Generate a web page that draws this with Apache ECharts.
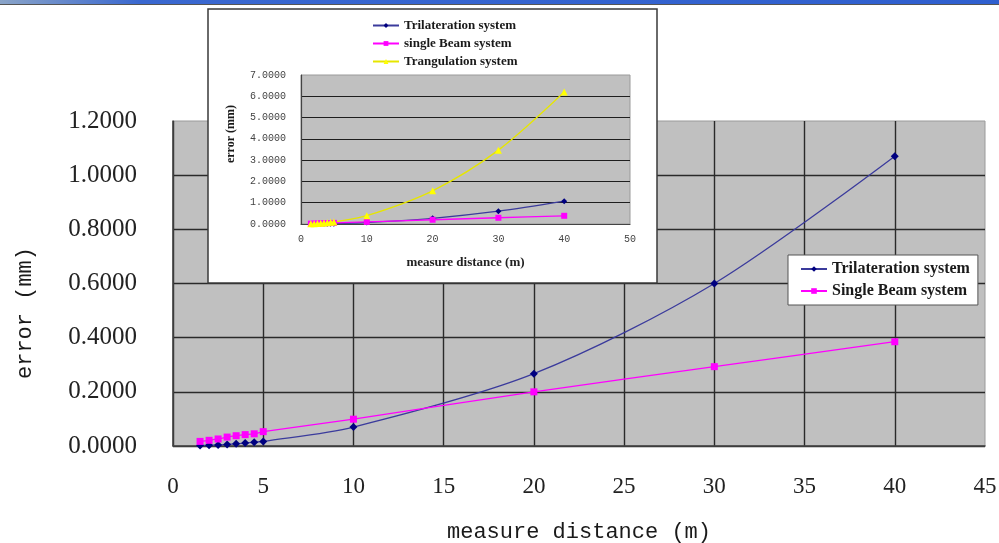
<!DOCTYPE html>
<html>
<head>
<meta charset="utf-8">
<script src="https://cdn.jsdelivr.net/npm/echarts@6/dist/echarts.min.js"></script>
<style>
  html, body { margin: 0; padding: 0; background: #ffffff; }
  #chart { width: 999px; height: 543px; }
</style>
</head>
<body>
<div id="chart"></div>
<script>
// Measuring distance (m)
const distances = [1.5, 2, 2.5, 3, 3.5, 4, 4.5, 5, 10, 20, 30, 40];

// Error (mm) of each system at those distances
const trilaterationError = [0.002, 0.003, 0.004, 0.006, 0.008, 0.011, 0.014, 0.017, 0.07, 0.267, 0.6, 1.07];
const singleBeamError    = [0.017, 0.021, 0.026, 0.033, 0.038, 0.042, 0.045, 0.053, 0.099, 0.2, 0.293, 0.385];
const triangulationError = [0.009, 0.016, 0.024, 0.035, 0.048, 0.062, 0.079, 0.097, 0.39, 1.56, 3.47, 6.2];

// Series names as printed in each legend
const mainNames  = ['Trilateration system', 'Single Beam system'];
const insetNames = ['Trilateration system', 'single Beam system', 'Trangulation system'];

// Axis titles
const xTitle = 'measure distance (m)';
const yTitle = 'error (mm)';

const pairs = (ys) => distances.map((d, i) => [d, ys[i]]);

const SERIF = '"Liberation Serif", "Times New Roman", serif';
const MONO = '"Liberation Mono", "Courier New", monospace';

const navyLine = '#3b3b9c';
const navyMark = '#000080';
const magenta = '#ff00ff';
const yellow = '#ffff00';

const chart = echarts.init(document.getElementById('chart'), null, { renderer: 'canvas' });

function lineSeries(name, ys, xi, yi, color, markColor, symbol, size, zl) {
  return {
    type: 'line',
    name: name,
    xAxisIndex: xi,
    yAxisIndex: yi,
    data: pairs(ys),
    smooth: 0.3,
    symbol: symbol,
    symbolSize: size,
    showSymbol: true,
    zlevel: zl,
    z: 4,
    lineStyle: { color: color, width: 1.3 },
    itemStyle: { color: markColor },
    emphasis: { disabled: true },
    animation: false
  };
}

const option = {
  animation: false,
  backgroundColor: '#ffffff',
  grid: [
    {
      left: 173, right: 14, top: 121, bottom: 97,
      outerBoundsMode: 'none', containLabel: false,
      show: true, backgroundColor: '#c0c0c0', borderColor: '#9a9a9a', borderWidth: 1,
      zlevel: 0, z: 0
    },
    {
      left: 301, right: 369, top: 75, bottom: 319,
      outerBoundsMode: 'none', containLabel: false,
      show: true, backgroundColor: '#c0c0c0', borderColor: '#9a9a9a', borderWidth: 1,
      zlevel: 2, z: 0
    }
  ],
  xAxis: [
    {
      gridIndex: 0, type: 'value', min: 0, max: 45, interval: 5,
      name: xTitle, nameLocation: 'middle', nameGap: 75,
      nameTextStyle: { fontFamily: MONO, fontSize: 22, color: '#1a1a1a' },
      axisLine: { show: true, lineStyle: { color: '#444', width: 1.5 } },
      axisTick: { show: false },
      axisLabel: { margin: 29, fontFamily: SERIF, fontSize: 23, color: '#222' },
      splitLine: { show: true, showMaxLine: false, lineStyle: { color: '#2a2a2a', width: 1.4 } },
      zlevel: 0
    },
    {
      gridIndex: 1, type: 'value', min: 0, max: 50, interval: 10,
      name: xTitle, nameLocation: 'middle', nameGap: 32,
      nameTextStyle: { fontFamily: SERIF, fontWeight: 'bold', fontSize: 13, color: '#222' },
      axisLine: { show: true, lineStyle: { color: '#444', width: 1.2 } },
      axisTick: { show: false },
      axisLabel: { margin: 10, fontFamily: MONO, fontSize: 10, color: '#444' },
      splitLine: { show: false },
      zlevel: 2
    }
  ],
  yAxis: [
    {
      gridIndex: 0, type: 'value', min: 0, max: 1.2, interval: 0.2,
      axisLine: { show: true, lineStyle: { color: '#444', width: 1.5 } },
      axisTick: { show: false },
      axisLabel: {
        margin: 36, fontFamily: SERIF, fontSize: 25, color: '#222',
        formatter: (v) => v.toFixed(4)
      },
      splitLine: { show: true, showMaxLine: false, lineStyle: { color: '#2a2a2a', width: 1.4 } },
      zlevel: 0
    },
    {
      gridIndex: 1, type: 'value', min: 0, max: 7, interval: 1,
      axisLine: { show: true, lineStyle: { color: '#444', width: 1.2 } },
      axisTick: { show: false },
      axisLabel: {
        margin: 15, fontFamily: MONO, fontSize: 10, color: '#444',
        formatter: (v) => v.toFixed(4)
      },
      splitLine: { show: true, showMaxLine: false, lineStyle: { color: '#1e1e1e', width: 1.2 } },
      zlevel: 2
    }
  ],
  legend: [
    {
      data: mainNames,
      orient: 'vertical',
      left: 788, top: 255,
      padding: [6, 8, 6, 12],
      itemGap: 6,
      itemWidth: 26, itemHeight: 7,
      backgroundColor: '#ffffff',
      borderColor: '#555', borderWidth: 1,
      borderRadius: 0,
      selectedMode: false,
      textStyle: { fontFamily: SERIF, fontWeight: 'bold', fontSize: 16, color: '#1a1a1a' },
      zlevel: 0, z: 6
    },
    {
      data: insetNames,
      orient: 'vertical',
      left: 372, top: 19,
      padding: 0,
      itemGap: 5,
      itemWidth: 26, itemHeight: 6,
      selectedMode: false,
      textStyle: { fontFamily: SERIF, fontWeight: 'bold', fontSize: 13, color: '#1a1a1a' },
      zlevel: 2, z: 6
    }
  ],
  graphic: [
    // window title bar strip along the top edge
    { type: 'rect', zlevel: 0, z: 10, shape: { x: 0, y: 0, width: 999, height: 4 },
      style: { fill: new echarts.graphic.LinearGradient(0, 0, 1, 0, [
        { offset: 0, color: '#8aa4c8' }, { offset: 0.14, color: '#3a68d0' }, { offset: 1, color: '#2f5fcf' }
      ]) } },
    { type: 'rect', zlevel: 0, z: 10, shape: { x: 0, y: 4, width: 999, height: 1 },
      style: { fill: '#555555' } },
    // frame of the inset chart
    { type: 'rect', zlevel: 1, z: 0, shape: { x: 208, y: 9, width: 449, height: 274 },
      style: { fill: '#ffffff', stroke: '#3a3a3a', lineWidth: 1.5 } },
    // rotated y-axis titles
    { type: 'text', zlevel: 0, z: 10, x: 25, y: 313, rotation: Math.PI / 2,
      style: { text: yTitle, fontFamily: MONO, fontSize: 22, fill: '#1a1a1a',
               align: 'center', verticalAlign: 'middle' } },
    { type: 'text', zlevel: 2, z: 10, x: 231, y: 134, rotation: Math.PI / 2,
      style: { text: yTitle, fontFamily: SERIF, fontWeight: 'bold', fontSize: 12, fill: '#1a1a1a',
               align: 'center', verticalAlign: 'middle' } }
  ],
  series: [
    lineSeries(mainNames[0], trilaterationError, 0, 0, navyLine, navyMark, 'diamond', 8, 0),
    lineSeries(mainNames[1], singleBeamError, 0, 0, magenta, magenta, 'rect', 7, 0),
    lineSeries(insetNames[0], trilaterationError, 1, 1, navyLine, navyMark, 'diamond', 6, 2),
    lineSeries(insetNames[1], singleBeamError, 1, 1, magenta, magenta, 'rect', 6, 2),
    lineSeries(insetNames[2], triangulationError, 1, 1, '#e6e600', yellow, 'triangle', 7, 2)
  ]
};

chart.setOption(option);
</script>
</body>
</html>
